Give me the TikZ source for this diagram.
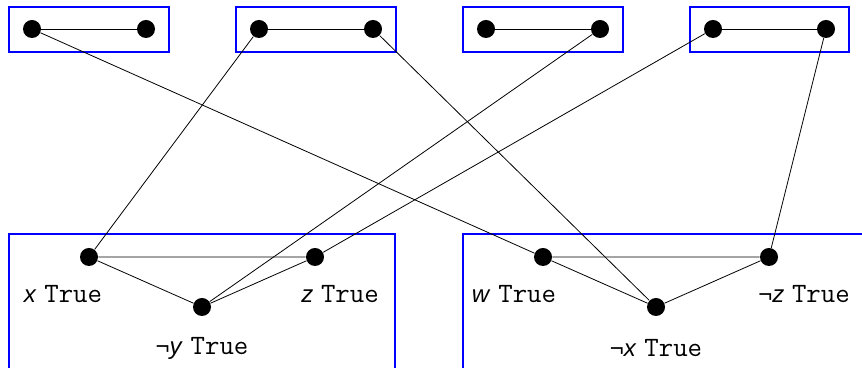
\documentclass[tikz,border=0pt]{standalone}
\usepackage{fontspec}
\setmainfont{Liberation Sans}
\setsansfont{Liberation Sans}
\newcommand{\lit}[1]{{\sffamily\fontsize{12}{14}\selectfont #1}~\texttt{True}}
\begin{document}
\begin{tikzpicture}[x=0.5pt, y=0.5pt, dot/.style={circle, fill=black, minimum size=9pt, inner sep=0pt},
        bx/.style={draw=blue, line width=1pt}, lbl/.style={font=\fontsize{14}{16}\selectfont}]
        \useasboundingbox (0,0) rectangle (862,368);
        \clip (0,0) rectangle (862,368);
        % obere Kanten-Gadgets
        \foreach \i/\xa/\xb in {1/32/146,2/259/373,3/486/600,4/713/826} {
            \draw[bx] (\xa-23,316) rectangle (\xb+23,361);
            \node[dot] (t\i a) at (\xa,339){};
            \node[dot] (t\i b) at (\xb,339){};
            \draw (t\i a) -- (t\i b);
        }
        % Klausel-Dreiecke
        \draw[bx] (9,-10) rectangle (395,134);
        \draw[bx] (463,-10) rectangle (880,134);
        \node[dot] (x)  at (89,111){};
        \node[dot] (z)  at (315,111){};
        \node[dot] (ny) at (202,61){};
        \node[dot] (w)  at (543,111){};
        \node[dot] (nz) at (769,111){};
        \node[dot] (nx) at (656,61){};
        \draw (x) -- (z) -- (ny) -- (x);
        \draw (w) -- (nz) -- (nx) -- (w);
        % Beschriftungen
        \node[lbl] (lx)  at (63,74){\lit{\itshape x}};
        \node[lbl] (lz)  at (340,74){\lit{\itshape z}};
        \node[lbl] (lny) at (202,20){\lit{¬\itshape y}};
        \node[lbl] (lw)  at (514,74){\lit{\itshape w}};
        \node[lbl] (lnz) at (804,74){\lit{¬\itshape z}};
        \node[lbl] (lnx) at (656,20){\lit{¬\itshape x}};
        % Verbindungen
        \draw (t1a) -- (w);
        \draw (t2a) -- (x);
        \draw (t2b) -- (nx);
        \draw (t3b) -- (ny);
        \draw (t4a) -- (z);
        \draw (t4b) -- (nz);
    \end{tikzpicture}
\end{document}
